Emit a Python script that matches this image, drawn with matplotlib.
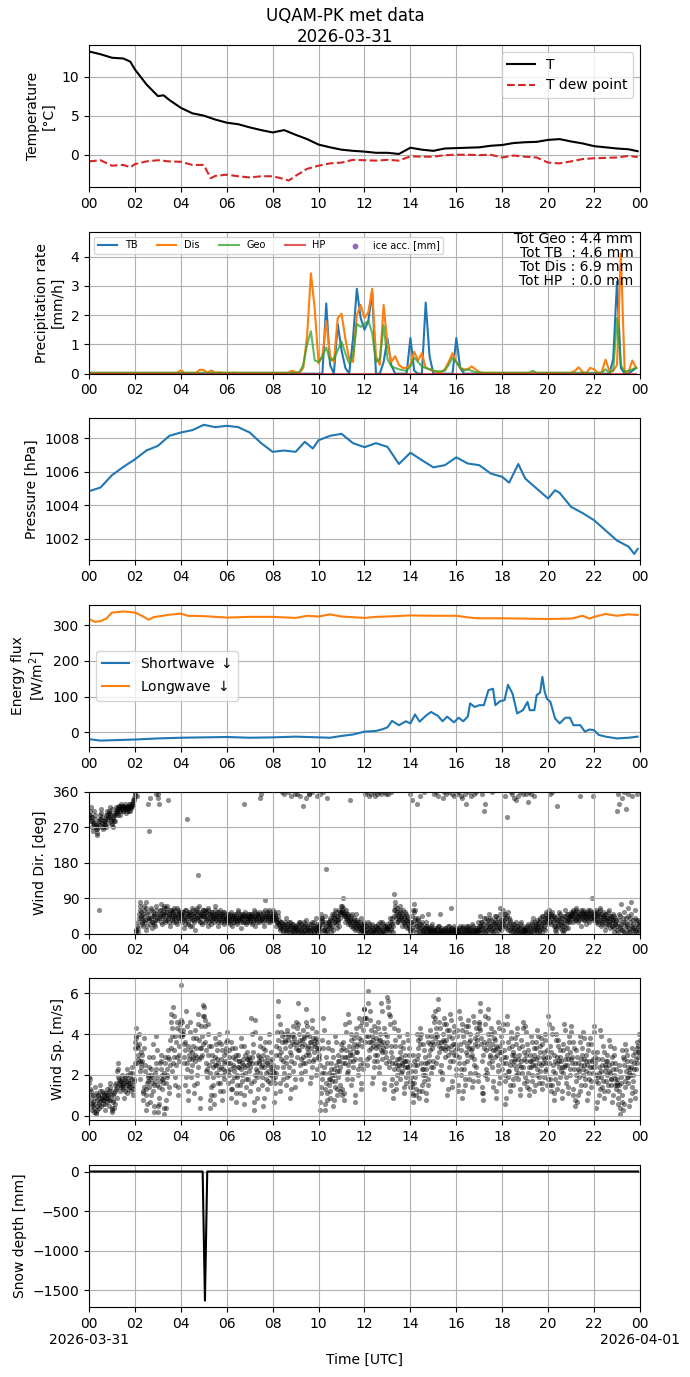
import numpy as np
import pandas as pd
import matplotlib
matplotlib.use("Agg")
import matplotlib.pyplot as plt
import matplotlib.dates as mdates
from matplotlib.ticker import FuncFormatter

DAY = pd.Timestamp("2026-03-31")
DAY_END = pd.Timestamp("2026-04-01")

# ---------------- Temperature ----------------
t_hours = [0, 0.5, 1, 1.5, 1.8, 2, 2.5, 3, 3.25, 3.5, 4, 4.5, 5, 5.5, 6, 6.5, 7, 7.5, 8, 8.5,
           9, 9.5, 10, 10.5, 11, 11.5, 12, 12.5, 13, 13.5, 14, 14.5, 15, 15.5, 16, 16.5, 17,
           17.5, 18, 18.5, 19, 19.5, 20, 20.5, 21, 21.5, 22, 22.5, 23, 23.5, 23.9]
temp = [13.2, 12.85, 12.4, 12.3, 11.9, 10.9, 9.0, 7.5, 7.6, 7.0, 6.0, 5.3, 5.0, 4.5, 4.1, 3.9,
        3.5, 3.15, 2.85, 3.15, 2.55, 2.0, 1.3, 0.95, 0.65, 0.5, 0.4, 0.25, 0.25, 0.1, 0.9, 0.65,
        0.5, 0.8, 0.85, 0.9, 0.95, 1.15, 1.25, 1.5, 1.6, 1.65, 1.9, 2.0, 1.7, 1.45, 1.1, 0.95,
        0.8, 0.7, 0.45]
td_hours = [0, 0.5, 1, 1.5, 1.8, 2, 2.5, 3, 3.5, 4, 4.5, 5, 5.3, 5.5, 6, 6.5, 7, 7.5, 8, 8.5,
            8.7, 9, 9.5, 10, 10.5, 11, 11.5, 12, 12.5, 13, 13.5, 14, 14.5, 15, 15.5, 16, 16.5,
            17, 17.5, 18, 18.5, 19, 19.5, 20, 20.5, 21, 21.5, 22, 22.5, 23, 23.5, 23.9]
tdew = [-0.85, -0.7, -1.4, -1.3, -1.6, -1.2, -0.85, -0.7, -0.85, -0.9, -1.3, -1.3, -3.0, -2.7,
        -2.55, -2.75, -2.9, -2.75, -2.75, -3.1, -3.3, -2.7, -1.8, -1.4, -1.1, -1.0, -0.65, -0.7,
        -0.75, -0.65, -0.75, -0.2, -0.25, -0.25, -0.05, 0.0, 0.0, -0.05, 0.0, -0.35, -0.1,
        -0.25, -0.35, -1.0, -1.1, -0.85, -0.55, -0.45, -0.4, -0.35, -0.15, -0.3]

# ---------------- Precipitation (10-min steps, 6 values per hour) ----------------
precip_tb = [
    0, 0, 0, 0, 0, 0,   0, 0, 0, 0, 0, 0,   0, 0, 0, 0, 0, 0,   0, 0, 0, 0, 0, 0,
    0, 0, 0, 0, 0, 0,   0, 0, 0, 0, 0, 0,   0, 0, 0, 0, 0, 0,   0, 0, 0, 0, 0, 0,
    0, 0, 0, 0, 0, 0,   0, 0, 0, 0, 0, 0,
    0, 0, 2.4, 0.3, 0, 1.7,
    0.8, 0.2, 0, 1.2, 2.9, 1.9,
    1.5, 1.8, 2.8, 0, 0, 0.4,
    1.2, 0.3, 0, 0, 0, 0,
    1.22, 0.1, 0, 0, 2.43, 0.6,
    0, 0, 0, 0, 0, 0,
    1.22, 0.2, 0, 0, 0, 0,
    0, 0, 0, 0, 0, 0,   0, 0, 0, 0, 0, 0,   0, 0, 0, 0, 0, 0,   0, 0, 0, 0, 0, 0,
    0, 0, 0, 0, 0, 0,
    0, 0, 0, 0, 0, 0.5,
    3.15, 0.2, 0, 0, 0.1, 0.2,
]
precip_dis = [
    0.03, 0.03, 0.03, 0.03, 0.03, 0.03,   0.03, 0.03, 0.03, 0.03, 0.03, 0.03,
    0.03, 0.03, 0.03, 0.03, 0.03, 0.03,   0.03, 0.03, 0.03, 0.03, 0.03, 0.03,
    0.11, 0.03, 0.03, 0.03, 0.03, 0.14,
    0.12, 0.03, 0.11, 0.03, 0.05, 0.03,
    0.03, 0.03, 0.04, 0.03, 0.03, 0.03,
    0.03, 0.03, 0.03, 0.03, 0.03, 0.03,
    0.03, 0.03, 0.03, 0.03, 0.03, 0.1,
    0.05, 0.03, 0.2, 1.3, 3.43, 2.2,
    0.35, 0.6, 1.8, 0.6, 0.4, 1.9,
    2.05, 1.2, 0.5, 0.4, 2.0, 2.35,
    1.9, 2.1, 2.9, 0.6, 0.3, 2.35,
    1.0, 0.4, 0.6, 0.3, 0.2, 0.2,
    0.3, 0.75, 0.45, 0.7, 0.2, 0.15,
    0.1, 0.05, 0.05, 0.15, 0.4, 0.7,
    0.4, 0.2, 0.15, 0.15, 0.25, 0.15,
    0.05, 0.03, 0.03, 0.03, 0.03, 0.03,
    0.03, 0.03, 0.03, 0.03, 0.03, 0.03,   0.03, 0.03, 0.03, 0.03, 0.03, 0.03,
    0.03, 0.03, 0.03, 0.03, 0.03, 0.03,
    0.03, 0.1, 0.22, 0.05, 0.03, 0.2,
    0.15, 0.03, 0.05, 0.48, 0.1, 0.1,
    0.3, 4.1, 0.1, 0.05, 0.45, 0.2,
]
precip_geo = [
    0.03, 0.03, 0.03, 0.03, 0.03, 0.03,   0.03, 0.03, 0.03, 0.03, 0.03, 0.03,
    0.03, 0.03, 0.03, 0.03, 0.03, 0.03,   0.03, 0.03, 0.03, 0.03, 0.03, 0.03,
    0.03, 0.03, 0.03, 0.03, 0.03, 0.03,   0.03, 0.03, 0.03, 0.03, 0.03, 0.03,
    0.03, 0.03, 0.03, 0.03, 0.03, 0.03,   0.03, 0.03, 0.03, 0.03, 0.03, 0.03,
    0.03, 0.03, 0.03, 0.03, 0.03, 0.03,
    0.03, 0.05, 0.3, 1.0, 1.45, 0.45,
    0.4, 0.6, 0.9, 0.45, 0.5, 0.8,
    1.1, 0.7, 0.35, 0.6, 1.7, 1.6,
    1.7, 1.8, 1.4, 0.4, 0.5, 1.65,
    0.5, 0.25, 0.2, 0.15, 0.12, 0.1,
    0.25, 0.55, 0.4, 0.25, 0.2, 0.15,
    0.1, 0.08, 0.08, 0.1, 0.3, 0.55,
    0.4, 0.2, 0.1, 0.15, 0.1, 0.05,
    0.05, 0.03, 0.03, 0.03, 0.03, 0.03,
    0.03, 0.03, 0.03, 0.03, 0.03, 0.03,
    0.03, 0.03, 0.1, 0.03, 0.03, 0.03,
    0.03, 0.03, 0.03, 0.03, 0.03, 0.03,   0.03, 0.03, 0.03, 0.03, 0.03, 0.03,
    0.03, 0.03, 0.03, 0.15, 0.03, 0.1,
    1.9, 0.3, 0.05, 0.1, 0.15, 0.2,
]
precip_hp = [
    0, 0, 0, 0, 0, 0, 0, 0, 0, 0, 0, 0,   0, 0, 0, 0, 0, 0, 0, 0, 0, 0, 0, 0,
    0, 0, 0, 0, 0, 0, 0, 0, 0, 0, 0, 0,   0, 0, 0, 0, 0, 0, 0, 0, 0, 0, 0, 0,
    0, 0, 0, 0, 0, 0, 0, 0, 0, 0, 0, 0,   0, 0, 0, 0, 0, 0, 0, 0, 0, 0, 0, 0,
    0, 0, 0, 0, 0, 0, 0, 0, 0, 0, 0, 0,   0, 0, 0, 0, 0, 0, 0, 0, 0, 0, 0, 0,
    0, 0, 0, 0, 0, 0, 0, 0, 0, 0, 0, 0,   0, 0, 0, 0, 0, 0, 0, 0, 0, 0, 0, 0,
    0, 0, 0, 0, 0, 0, 0, 0, 0, 0, 0, 0,   0, 0, 0, 0, 0, 0, 0, 0, 0, 0, 0, 0,
]
tot_labels = ["Tot Geo : 4.4 mm", "Tot TB  : 4.6 mm", "Tot Dis : 6.9 mm", "Tot HP  : 0.0 mm"]

# ---------------- Pressure ----------------
p_hours = [0, 0.5, 1, 1.5, 2, 2.5, 3, 3.5, 4, 4.5, 5, 5.5, 6, 6.5, 7, 7.5, 8, 8.5, 9, 9.4,
           9.75, 10, 10.5, 11, 11.5, 12, 12.5, 13, 13.5, 14, 14.5, 15, 15.5, 16, 16.5, 17,
           17.5, 18, 18.3, 18.7, 19, 19.5, 20, 20.3, 20.5, 21, 21.5, 22, 22.5, 23, 23.5,
           23.75, 23.9]
pressure = [1004.84, 1005.06, 1005.8, 1006.3, 1006.75, 1007.28, 1007.56, 1008.16, 1008.36,
            1008.5, 1008.82, 1008.68, 1008.76, 1008.68, 1008.36, 1007.72, 1007.2, 1007.28,
            1007.2, 1007.8, 1007.4, 1007.9, 1008.16, 1008.28, 1007.72, 1007.48, 1007.72,
            1007.5, 1006.47, 1007.15, 1006.7, 1006.27, 1006.4, 1006.87, 1006.5, 1006.4,
            1005.9, 1005.7, 1005.35, 1006.47, 1005.6, 1005.0, 1004.4, 1004.9, 1004.74,
            1003.9, 1003.53, 1003.1, 1002.49, 1001.88, 1001.52, 1001.08, 1001.38]

# ---------------- Radiation ----------------
lw_hours = [0, 0.25, 0.5, 0.75, 1.0, 1.5, 2.0, 2.3, 2.6, 2.8, 3.0, 3.5, 4.0, 4.3, 5, 6, 7, 8,
            9, 9.5, 10, 10.5, 11, 12, 12.5, 13, 14, 15, 16, 16.7, 17, 18, 19, 20, 21, 21.5,
            21.8, 22, 22.5, 23, 23.5, 23.9]
longwave = [317, 309, 311, 318, 335, 338, 335, 326, 315, 322, 324, 329, 332, 326, 325, 321,
            323, 323, 320, 326, 324, 330, 324, 320, 323, 324, 327, 326, 326, 320, 319, 319,
            318, 317, 318, 326, 318, 323, 331, 326, 330, 328]
sw_hours = [0, 0.5, 1, 2, 3, 4, 5, 6, 7, 8, 9, 10, 10.5, 11, 11.5, 12, 12.5, 12.8, 13, 13.2,
            13.5, 13.8, 14.0, 14.2, 14.4, 14.7, 14.9, 15.2, 15.4, 15.6, 15.9, 16.1, 16.3,
            16.5, 16.6, 16.8, 17.0, 17.2, 17.4, 17.6, 17.7, 17.9, 18.1, 18.25, 18.45, 18.65,
            18.9, 19.1, 19.2, 19.4, 19.5, 19.65, 19.75, 19.85, 19.95, 20.1, 20.3, 20.5,
            20.75, 20.95, 21.1, 21.4, 21.6, 21.8, 22.0, 22.2, 22.5, 23, 23.5, 23.9]
shortwave = [-19, -23, -22, -20, -17, -15, -14, -13, -15, -14, -12, -14, -15, -10, -6, 2, 4,
             9, 14, 32, 20, 31, 25, 50, 30, 48, 57, 46, 31, 44, 28, 41, 31, 44, 81, 71, 76,
             76, 118, 122, 76, 87, 90, 133, 108, 53, 62, 85, 62, 62, 104, 111, 155, 113, 94,
             85, 39, 25, 41, 41, 20, 20, 2, 8, 6, -7, -12, -17, -15, -12]

# ---------------- Wind: two interleaved sample sets, 30 per hour each ----------------
wind_dir = [
    [290, 300, 285, 320, 295, 280, 275, 310, 300, 265, 250, 255, 270, 60, 290, 300, 315, 280, 265, 270, 285, 275, 300, 310, 290, 280, 295, 320, 305, 285],
    [275, 270, 290, 300, 285, 310, 315, 305, 320, 310, 300, 325, 330, 315, 320, 310, 325, 318, 305, 312, 322, 315, 330, 320, 310, 318, 325, 335, 330, 340],
    [355, 5, 10, 350, 15, 40, 60, 80, 45, 30, 20, 50, 70, 35, 80, 10, 55, 330, 260, 40, 25, 65, 15, 45, 30, 50, 20, 60, 355, 35],
    [345, 330, 40, 60, 75, 25, 50, 45, 70, 30, 55, 65, 35, 340, 50, 45, 20, 60, 40, 55, 30, 65, 50, 45, 35, 25, 60, 40, 55, 50],
    [45, 50, 30, 55, 15, 40, 60, 35, 290, 50, 25, 45, 55, 40, 20, 65, 50, 35, 45, 10, 60, 40, 150, 55, 70, 30, 45, 50, 25, 60],
    [45, 60, 30, 55, 40, 20, 65, 50, 35, 45, 25, 55, 40, 30, 50, 70, 40, 55, 20, 45, 35, 60, 50, 30, 45, 40, 25, 55, 35, 50],
    [40, 30, 50, 35, 25, 45, 55, 20, 40, 30, 45, 35, 50, 25, 40, 60, 35, 45, 15, 40, 50, 30, 45, 330, 55, 25, 40, 30, 50, 45],
    [40, 30, 50, 25, 45, 35, 60, 20, 40, 50, 30, 45, 55, 35, 345, 355, 40, 30, 50, 20, 85, 45, 35, 55, 40, 60, 30, 45, 50, 35],
    [50, 60, 35, 45, 20, 40, 30, 55, 25, 15, 10, 30, 360, 20, 5, 355, 25, 10, 40, 15, 360, 5, 20, 30, 350, 10, 0, 25, 15, 355],
    [10, 20, 355, 5, 30, 15, 350, 25, 5, 325, 0, 20, 10, 345, 35, 5, 15, 355, 25, 10, 0, 30, 360, 15, 5, 20, 40, 10, 350, 15],
    [10, 20, 355, 50, 40, 30, 360, 10, 5, 45, 165, 345, 30, 25, 15, 35, 5, 50, 20, 10, 40, 60, 30, 25, 15, 45, 35, 20, 55, 70],
    [55, 70, 90, 50, 45, 30, 60, 40, 25, 50, 35, 340, 20, 45, 30, 15, 40, 25, 10, 50, 35, 20, 30, 15, 5, 25, 40, 10, 20, 30],
    [10, 355, 20, 360, 5, 30, 350, 15, 0, 355, 25, 10, 360, 5, 350, 20, 355, 0, 15, 360, 30, 5, 355, 10, 25, 360, 0, 20, 355, 15],
    [15, 355, 20, 40, 10, 360, 30, 5, 60, 100, 80, 50, 30, 65, 45, 35, 70, 55, 40, 20, 60, 45, 30, 25, 50, 35, 15, 40, 20, 10],
    [355, 30, 340, 60, 10, 75, 40, 5, 330, 20, 35, 15, 350, 0, 25, 45, 10, 5, 360, 15, 30, 0, 20, 50, 10, 5, 15, 0, 25, 10],
    [5, 355, 10, 0, 360, 15, 350, 5, 20, 50, 10, 0, 345, 5, 360, 15, 10, 355, 0, 5, 20, 360, 10, 65, 355, 15, 5, 350, 10, 0],
    [5, 355, 10, 360, 0, 20, 350, 5, 345, 15, 0, 355, 10, 330, 20, 5, 360, 15, 0, 350, 10, 25, 5, 355, 0, 15, 360, 10, 5, 20],
    [10, 45, 20, 355, 30, 5, 310, 330, 15, 40, 0, 25, 10, 50, 20, 35, 5, 360, 15, 25, 45, 10, 30, 0, 20, 40, 15, 65, 10, 25],
    [30, 60, 50, 350, 20, 40, 295, 10, 55, 25, 35, 360, 5, 355, 15, 345, 25, 0, 340, 10, 350, 20, 5, 360, 15, 30, 0, 355, 10, 5],
    [10, 355, 20, 0, 335, 360, 15, 5, 355, 25, 40, 10, 350, 30, 20, 15, 5, 25, 0, 10, 35, 20, 5, 45, 15, 30, 10, 55, 25, 40],
    [40, 60, 355, 30, 50, 360, 45, 20, 35, 10, 5, 325, 35, 25, 55, 40, 15, 30, 20, 5, 45, 10, 60, 25, 35, 50, 15, 40, 30, 45],
    [45, 50, 30, 60, 40, 55, 35, 65, 45, 30, 50, 40, 350, 20, 55, 45, 60, 35, 50, 40, 25, 55, 45, 30, 50, 60, 40, 90, 350, 55],
    [40, 55, 30, 60, 45, 25, 50, 35, 65, 20, 40, 30, 55, 45, 10, 35, 50, 25, 40, 60, 30, 15, 45, 35, 20, 50, 5, 30, 40, 25],
    [310, 355, 330, 50, 20, 75, 345, 10, 40, 360, 0, 30, 315, 20, 355, 65, 5, 40, 80, 15, 350, 25, 0, 60, 10, 35, 355, 20, 5, 30],
]
wind_dir_b = [
    [300, 310, 295, 285, 270, 260, 280, 290, 275, 270, 265, 280, 285, 275, 290, 305, 295, 270, 280, 275, 290, 285, 270, 300, 295, 305, 310, 300, 290, 315],
    [280, 295, 285, 305, 300, 320, 310, 300, 315, 325, 310, 320, 318, 325, 310, 322, 315, 328, 320, 315, 325, 320, 312, 330, 325, 320, 330, 340, 345, 350],
    [360, 10, 20, 5, 30, 50, 70, 40, 55, 25, 35, 60, 45, 30, 65, 20, 40, 50, 35, 345, 60, 40, 30, 55, 25, 45, 35, 70, 50, 40],
    [355, 50, 45, 30, 60, 40, 55, 65, 50, 35, 45, 70, 55, 40, 30, 60, 45, 50, 35, 55, 40, 60, 45, 30, 50, 65, 40, 55, 45, 35],
    [50, 40, 55, 35, 45, 25, 60, 45, 50, 30, 55, 40, 20, 50, 35, 60, 45, 30, 55, 40, 50, 65, 35, 45, 55, 40, 30, 50, 60, 45],
    [50, 40, 55, 35, 45, 60, 30, 50, 40, 55, 35, 45, 50, 40, 60, 35, 45, 50, 30, 55, 40, 45, 35, 50, 40, 55, 30, 45, 40, 35],
    [35, 45, 40, 30, 50, 35, 45, 40, 30, 50, 40, 35, 45, 30, 55, 40, 35, 50, 30, 45, 40, 35, 50, 45, 30, 40, 45, 35, 40, 50],
    [35, 45, 40, 50, 30, 45, 55, 40, 35, 50, 45, 30, 40, 50, 35, 45, 40, 55, 35, 45, 60, 40, 50, 30, 45, 55, 40, 35, 45, 40],
    [45, 55, 40, 50, 35, 30, 45, 25, 35, 20, 30, 15, 25, 10, 20, 30, 15, 5, 25, 20, 10, 30, 15, 5, 20, 25, 10, 15, 5, 20],
    [15, 5, 25, 10, 20, 30, 10, 5, 15, 20, 30, 10, 25, 5, 15, 20, 10, 355, 5, 15, 25, 10, 20, 5, 30, 15, 10, 25, 5, 20],
    [15, 5, 25, 40, 35, 25, 10, 15, 30, 20, 10, 5, 20, 30, 40, 25, 15, 35, 45, 30, 50, 40, 55, 35, 45, 30, 60, 50, 40, 55],
    [60, 50, 65, 45, 55, 40, 50, 35, 45, 30, 40, 25, 35, 50, 20, 30, 35, 20, 15, 30, 25, 10, 20, 30, 15, 10, 20, 5, 15, 25],
    [5, 20, 10, 0, 15, 25, 5, 10, 20, 5, 15, 0, 10, 20, 5, 10, 15, 25, 5, 10, 20, 15, 0, 30, 10, 5, 20, 15, 10, 25],
    [10, 20, 5, 30, 15, 25, 40, 20, 45, 70, 60, 40, 55, 30, 50, 40, 60, 45, 35, 50, 30, 40, 55, 20, 35, 45, 25, 30, 15, 5],
    [30, 15, 45, 25, 55, 35, 60, 20, 30, 40, 10, 25, 5, 15, 20, 30, 10, 0, 15, 5, 20, 10, 5, 15, 0, 10, 20, 5, 15, 0],
    [10, 5, 15, 0, 5, 10, 20, 0, 5, 15, 10, 5, 0, 10, 5, 15, 0, 5, 10, 20, 5, 0, 15, 10, 5, 0, 10, 20, 5, 15],
    [10, 0, 5, 15, 10, 5, 0, 15, 20, 5, 10, 0, 15, 5, 10, 20, 5, 0, 10, 15, 5, 20, 10, 0, 5, 10, 15, 5, 30, 10],
    [20, 5, 30, 15, 10, 25, 40, 5, 20, 30, 10, 35, 15, 20, 40, 10, 25, 30, 5, 15, 35, 20, 45, 25, 10, 30, 50, 15, 35, 20],
    [40, 25, 35, 50, 15, 30, 45, 20, 40, 10, 30, 15, 20, 5, 25, 10, 15, 30, 5, 20, 10, 0, 15, 25, 5, 10, 20, 5, 15, 10],
    [5, 15, 10, 25, 5, 20, 10, 0, 15, 30, 20, 5, 15, 25, 10, 35, 20, 10, 30, 40, 15, 25, 45, 30, 20, 40, 35, 50, 30, 45],
    [50, 35, 45, 25, 40, 55, 30, 45, 20, 40, 15, 30, 45, 20, 35, 50, 25, 40, 10, 30, 20, 35, 45, 15, 40, 30, 50, 35, 45, 55],
    [50, 40, 55, 45, 35, 50, 60, 40, 45, 55, 35, 50, 45, 60, 40, 50, 35, 55, 45, 50, 40, 60, 35, 45, 55, 40, 50, 45, 35, 50],
    [45, 35, 50, 40, 55, 30, 45, 60, 35, 50, 25, 45, 40, 30, 50, 20, 40, 35, 55, 25, 45, 30, 40, 20, 35, 45, 15, 25, 35, 10],
    [20, 5, 35, 15, 45, 25, 10, 30, 55, 5, 20, 40, 10, 25, 45, 15, 30, 5, 50, 20, 10, 35, 15, 40, 5, 25, 15, 35, 10, 25],
]
wind_speed = [
    [1.9, 1.8, 1.2, 0.8, 0.5, 1.0, 0.2, 0.6, 1.4, 0.1, 0.3, 0.8, 1.0, 0.4, 0.9, 1.5, 0.5, 1.2, 0.6, 0.8, 1.1, 0.3, 0.9, 1.3, 0.7, 1.0, 0.5, 1.6, 0.8, 1.2],
    [0.2, 1.0, 0.7, 0.4, 1.5, 1.3, 0.9, 2.2, 2.6, 1.8, 1.5, 1.2, 1.7, 2.0, 1.6, 1.4, 0.9, 1.8, 1.5, 2.3, 1.1, 1.7, 1.4, 1.9, 1.6, 1.2, 2.1, 1.0, 1.5, 1.8],
    [3.3, 4.3, 3.8, 2.6, 3.0, 4.0, 2.2, 1.8, 3.1, 2.7, 0.8, 1.2, 3.8, 2.5, 1.0, 0.3, 1.6, 2.0, 2.9, 1.4, 0.7, 2.3, 1.9, 3.5, 1.2, 0.2, 1.7, 2.6, 3.9, 1.5],
    [0.2, 0.6, 1.4, 2.6, 3.0, 2.0, 1.3, 1.8, 0.1, 2.9, 0.4, 1.6, 2.3, 3.2, 1.1, 2.8, 3.7, 5.0, 4.3, 2.2, 5.3, 2.9, 1.5, 3.9, 2.5, 4.6, 1.0, 3.4, 2.7, 4.2],
    [6.4, 3.9, 4.6, 4.0, 2.6, 3.6, 1.5, 5.1, 2.3, 0.8, 3.4, 2.8, 4.6, 1.9, 3.1, 2.5, 3.8, 1.1, 2.7, 4.2, 3.3, 1.6, 5.0, 2.4, 3.7, 0.4, 2.9, 4.4, 3.0, 5.4],
    [5.3, 4.7, 3.6, 2.2, 1.9, 4.5, 3.0, 2.5, 0.4, 1.0, 3.4, 2.7, 1.5, 0.6, 2.9, 3.8, 2.1, 3.2, 1.6, 2.6, 4.0, 1.2, 2.4, 3.5, 0.8, 2.0, 3.0, 1.8, 2.7, 3.6],
    [4.1, 2.2, 1.6, 3.2, 2.6, 0.9, 3.6, 1.3, 2.9, 1.9, 2.4, 3.3, 0.7, 1.5, 2.0, 3.0, 2.7, 1.1, 3.8, 2.3, 1.7, 2.8, 0.6, 3.4, 2.1, 1.4, 2.5, 3.1, 1.8, 2.6],
    [2.7, 1.2, 4.8, 2.6, 3.5, 0.3, 1.7, 4.7, 2.3, 1.9, 0.9, 3.0, 2.6, 3.8, 2.1, 2.8, 1.5, 3.3, 0.5, 2.4, 3.6, 1.8, 2.9, 1.3, 2.2, 4.0, 1.6, 2.7, 3.1, 2.0],
    [2.5, 1.8, 0.7, 1.6, 3.4, 2.1, 4.1, 5.6, 3.0, 1.2, 4.5, 2.8, 3.9, 2.4, 1.8, 4.0, 3.3, 2.6, 1.5, 4.2, 3.7, 2.0, 3.1, 0.9, 2.7, 3.6, 4.4, 2.2, 3.8, 1.4],
    [3.6, 4.6, 2.9, 5.5, 3.2, 4.0, 2.5, 1.8, 3.7, 2.6, 4.2, 3.5, 2.2, 5.2, 3.0, 4.4, 3.1, 2.7, 3.9, 1.6, 3.3, 4.7, 2.4, 3.8, 2.8, 3.4, 4.1, 2.0, 3.6, 2.9],
    [3.3, 2.8, 0.3, 1.1, 1.8, 3.7, 4.8, 2.4, 0.3, 1.3, 2.9, 0.8, 3.6, 2.1, 1.5, 0.9, 2.6, 1.7, 3.2, 0.5, 2.0, 1.4, 3.9, 2.5, 1.0, 3.0, 1.9, 2.7, 1.2, 3.5],
    [1.0, 2.9, 3.6, 0.8, 2.6, 4.5, 3.2, 1.8, 2.2, 5.0, 3.4, 2.7, 4.0, 1.5, 3.0, 2.4, 3.8, 0.7, 2.8, 4.3, 3.1, 2.0, 3.5, 4.8, 2.5, 1.3, 3.7, 4.6, 2.3, 5.2],
    [5.2, 3.6, 4.8, 2.5, 6.1, 3.9, 2.9, 5.1, 3.3, 4.2, 1.6, 3.7, 2.4, 4.4, 3.0, 3.8, 2.7, 4.6, 3.4, 2.1, 4.0, 3.2, 5.5, 2.8, 3.6, 1.3, 4.3, 3.1, 2.6, 3.9],
    [5.8, 5.3, 2.4, 4.9, 3.1, 1.5, 2.6, 0.9, 4.6, 2.3, 3.7, 1.3, 2.8, 2.0, 4.2, 2.5, 3.4, 1.8, 2.9, 2.2, 3.6, 1.1, 2.7, 3.0, 1.6, 2.4, 4.0, 2.1, 3.3, 1.4],
    [2.5, 1.9, 1.1, 0.7, 3.0, 1.6, 2.2, 1.3, 2.8, 4.0, 3.3, 0.9, 3.8, 4.3, 2.6, 1.2, 2.0, 3.5, 1.7, 2.9, 0.8, 2.3, 3.9, 1.5, 2.7, 3.2, 4.2, 2.1, 3.6, 2.4],
    [4.9, 3.5, 5.1, 4.3, 2.6, 3.9, 5.7, 3.1, 4.6, 2.2, 3.6, 1.8, 4.0, 3.3, 4.8, 2.9, 3.7, 4.5, 1.0, 3.0, 4.2, 2.4, 5.0, 3.4, 1.4, 3.8, 2.7, 4.4, 3.2, 2.0],
    [3.0, 4.2, 1.2, 2.6, 5.1, 3.5, 2.0, 4.5, 0.9, 3.9, 2.3, 1.5, 4.4, 3.1, 2.7, 4.7, 3.6, 1.8, 4.0, 2.9, 3.3, 1.4, 4.9, 2.5, 3.8, 2.1, 4.3, 3.4, 1.7, 4.6],
    [4.5, 5.5, 3.8, 1.1, 2.7, 0.8, 3.6, 4.9, 2.0, 3.2, 1.8, 5.2, 4.0, 2.6, 3.0, 4.3, 2.4, 3.5, 1.4, 4.1, 2.9, 3.7, 0.9, 3.3, 2.2, 4.6, 1.6, 3.1, 2.8, 3.9],
    [2.3, 4.5, 3.2, 1.7, 0.6, 2.9, 4.9, 1.9, 3.6, 2.2, 1.2, 4.1, 2.7, 3.4, 1.5, 3.0, 2.5, 3.8, 2.0, 4.3, 1.8, 2.8, 3.3, 1.0, 2.4, 3.7, 2.1, 4.6, 3.1, 1.6],
    [4.4, 2.7, 1.4, 3.5, 2.1, 1.0, 3.0, 2.4, 3.9, 1.7, 2.8, 3.3, 1.2, 2.5, 3.6, 2.0, 4.2, 2.9, 1.6, 3.4, 2.2, 3.8, 1.3, 2.6, 3.1, 1.9, 4.0, 2.3, 3.2, 1.5],
    [4.9, 2.6, 1.5, 3.4, 1.2, 4.3, 2.2, 0.8, 3.0, 1.8, 4.0, 2.9, 1.3, 3.7, 2.4, 3.2, 1.9, 2.7, 0.9, 3.5, 2.1, 4.5, 2.8, 1.6, 3.3, 2.5, 1.1, 3.9, 2.0, 3.1],
    [4.4, 2.9, 1.0, 3.6, 2.3, 0.5, 1.7, 3.2, 0.7, 2.6, 1.9, 3.9, 1.2, 2.5, 3.3, 2.0, 4.1, 2.8, 1.5, 3.0, 2.2, 0.8, 3.5, 1.8, 2.7, 3.8, 1.4, 2.4, 3.1, 2.1],
    [4.4, 2.6, 2.0, 0.4, 3.1, 1.6, 2.4, 1.0, 4.2, 1.9, 2.8, 1.4, 3.4, 0.9, 2.2, 2.7, 1.7, 3.0, 1.2, 2.5, 3.7, 2.1, 1.5, 2.9, 0.7, 2.3, 3.3, 1.8, 2.6, 1.3],
    [1.8, 0.6, 1.2, 2.5, 0.1, 1.9, 0.7, 3.2, 0.3, 2.8, 1.4, 3.5, 2.2, 3.0, 1.6, 2.4, 0.5, 2.0, 2.7, 1.1, 3.3, 1.7, 2.6, 0.9, 3.1, 2.3, 3.6, 2.9, 3.4, 4.0],
]
wind_speed_b = [
    [1.6, 1.3, 1.0, 0.6, 0.3, 0.7, 0.4, 0.9, 1.1, 0.2, 0.5, 1.0, 0.7, 0.6, 1.2, 0.8, 0.9, 1.0, 0.8, 1.0, 0.9, 0.6, 1.1, 1.0, 0.9, 1.2, 0.8, 1.4, 1.0, 0.3],
    [0.4, 0.8, 1.1, 0.6, 1.2, 1.6, 1.4, 1.9, 2.3, 1.6, 1.7, 1.4, 1.5, 1.8, 1.3, 1.6, 1.2, 1.9, 1.7, 2.0, 1.3, 1.5, 1.6, 2.1, 1.8, 1.4, 2.4, 1.3, 1.7, 2.6],
    [3.6, 3.9, 3.4, 2.8, 3.3, 3.5, 2.7, 2.4, 2.6, 3.0, 1.1, 1.4, 3.3, 2.2, 1.3, 0.6, 1.9, 1.7, 2.4, 1.8, 1.0, 2.0, 1.6, 2.9, 1.5, 0.5, 2.1, 2.3, 3.2, 1.9],
    [0.5, 0.9, 1.7, 2.3, 2.7, 1.8, 1.6, 2.1, 0.4, 2.6, 0.8, 1.9, 2.0, 2.9, 1.4, 2.5, 3.3, 4.6, 3.9, 2.6, 4.9, 3.2, 1.9, 3.6, 2.9, 4.3, 1.4, 3.0, 3.9, 4.5],
    [4.7, 4.0, 4.2, 3.5, 2.9, 3.2, 1.9, 4.4, 2.6, 1.2, 3.0, 3.2, 4.1, 2.2, 2.8, 2.9, 3.4, 1.5, 3.0, 3.8, 2.9, 2.0, 4.5, 2.8, 3.3, 0.9, 3.3, 3.9, 3.5, 4.9],
    [4.9, 4.4, 3.2, 2.6, 2.3, 4.0, 3.4, 2.1, 0.8, 1.4, 3.0, 2.4, 1.9, 1.0, 2.5, 3.5, 2.5, 2.8, 2.0, 2.3, 3.6, 1.6, 2.8, 3.2, 1.2, 2.3, 2.6, 2.2, 3.1, 3.3],
    [3.7, 2.6, 2.0, 2.9, 2.3, 1.3, 3.3, 1.7, 2.5, 2.2, 2.8, 3.0, 1.1, 1.9, 2.4, 2.7, 2.4, 1.5, 3.4, 2.6, 2.0, 2.5, 1.0, 3.0, 2.4, 1.8, 2.8, 2.8, 2.2, 2.9],
    [2.4, 1.6, 4.0, 2.9, 3.1, 0.7, 2.0, 4.1, 2.6, 2.2, 1.3, 2.7, 2.9, 3.4, 2.4, 2.5, 1.9, 3.0, 0.9, 2.7, 3.2, 2.1, 2.6, 1.7, 2.5, 3.6, 2.0, 2.4, 2.8, 2.3],
    [2.2, 2.1, 1.1, 1.9, 3.0, 2.4, 3.7, 4.9, 3.3, 1.6, 4.1, 3.1, 3.6, 2.7, 2.1, 3.7, 3.6, 2.9, 1.9, 3.9, 4.0, 2.4, 3.4, 1.3, 3.0, 3.9, 4.0, 2.6, 3.5, 1.8],
    [3.3, 4.3, 3.2, 4.5, 3.5, 3.7, 2.8, 2.1, 3.4, 2.9, 3.9, 3.8, 2.6, 4.6, 3.3, 4.0, 3.4, 3.0, 3.6, 1.9, 3.6, 4.3, 2.7, 3.5, 3.1, 3.7, 3.8, 2.3, 3.3, 3.2],
    [3.0, 2.5, 0.7, 1.4, 2.1, 3.3, 4.2, 2.1, 0.6, 1.6, 2.6, 1.1, 3.3, 1.8, 1.8, 1.2, 2.3, 2.0, 2.9, 0.8, 2.3, 1.7, 3.6, 2.2, 1.3, 2.7, 2.2, 2.4, 1.5, 3.2],
    [1.3, 2.6, 3.3, 1.1, 2.9, 4.1, 2.9, 2.1, 2.5, 4.6, 3.1, 3.0, 3.7, 1.8, 3.3, 2.7, 3.5, 1.0, 3.1, 4.0, 3.4, 2.3, 3.8, 4.4, 2.8, 1.6, 3.4, 4.2, 2.6, 4.8],
    [4.8, 3.9, 4.5, 2.8, 5.5, 3.6, 3.2, 4.7, 3.6, 3.9, 1.9, 3.4, 2.7, 4.1, 3.3, 3.5, 3.0, 4.3, 3.7, 2.4, 3.7, 3.5, 5.1, 3.1, 3.3, 1.6, 4.0, 3.4, 2.9, 3.6],
    [5.6, 5.0, 2.7, 4.5, 3.4, 1.8, 2.9, 1.2, 4.3, 2.6, 3.4, 1.6, 2.5, 2.3, 3.9, 2.8, 3.1, 2.1, 2.6, 2.5, 3.3, 1.4, 2.4, 2.7, 1.9, 2.7, 3.7, 2.4, 3.0, 1.7],
    [2.2, 1.6, 1.4, 1.0, 2.7, 1.9, 2.5, 1.0, 2.5, 3.7, 3.0, 1.2, 3.5, 4.0, 2.3, 1.5, 2.3, 3.2, 2.0, 2.6, 1.1, 2.6, 3.6, 1.8, 3.0, 3.5, 3.9, 2.4, 3.3, 2.7],
    [4.6, 3.8, 4.8, 4.0, 2.9, 3.6, 5.2, 3.4, 4.3, 2.5, 3.3, 2.1, 3.7, 3.6, 4.5, 3.2, 3.4, 4.2, 1.3, 3.3, 3.9, 2.7, 4.7, 3.1, 1.7, 3.5, 3.0, 4.1, 3.5, 2.3],
    [3.3, 3.9, 1.5, 2.9, 4.8, 3.2, 2.3, 4.2, 1.2, 3.6, 2.6, 1.8, 4.1, 3.4, 3.0, 4.4, 3.3, 2.1, 3.7, 3.2, 3.0, 1.7, 4.6, 2.8, 3.5, 2.4, 4.0, 3.7, 2.0, 4.3],
    [4.2, 5.1, 3.5, 1.4, 3.0, 1.1, 3.3, 4.5, 2.3, 3.5, 2.1, 4.8, 3.7, 2.9, 3.3, 4.0, 2.7, 3.2, 1.7, 3.8, 3.2, 3.4, 1.2, 3.0, 2.5, 4.3, 1.9, 3.4, 3.1, 3.6],
    [2.6, 4.2, 2.9, 2.0, 0.9, 2.6, 4.5, 2.2, 3.3, 2.5, 1.5, 3.8, 3.0, 3.1, 1.8, 2.7, 2.8, 3.5, 2.3, 4.0, 2.1, 2.5, 3.0, 1.3, 2.7, 3.4, 2.4, 4.3, 2.8, 1.9],
    [4.1, 3.0, 1.7, 3.2, 2.4, 1.3, 2.7, 2.7, 3.6, 2.0, 2.5, 3.0, 1.5, 2.8, 3.3, 2.3, 3.9, 2.6, 1.9, 3.1, 2.5, 3.5, 1.6, 2.9, 2.8, 2.2, 3.7, 2.6, 2.9, 1.8],
    [4.5, 2.9, 1.8, 3.1, 1.5, 4.0, 2.5, 1.1, 2.7, 2.1, 3.7, 2.6, 1.6, 3.4, 2.7, 2.9, 2.2, 2.4, 1.2, 3.2, 2.4, 4.2, 2.5, 1.9, 3.0, 2.8, 1.4, 3.6, 2.3, 2.8],
    [4.1, 2.6, 1.3, 3.3, 2.6, 0.8, 2.0, 2.9, 1.0, 2.3, 2.2, 3.6, 1.5, 2.8, 3.0, 2.3, 3.8, 2.5, 1.8, 2.7, 2.5, 1.1, 3.2, 2.1, 2.4, 3.5, 1.7, 2.7, 2.8, 2.4],
    [4.1, 2.9, 1.7, 0.7, 2.8, 1.9, 2.1, 1.3, 3.9, 2.2, 2.5, 1.7, 3.1, 1.2, 2.5, 2.4, 2.0, 2.7, 1.5, 2.2, 3.4, 1.8, 1.8, 2.6, 1.0, 2.0, 3.0, 1.5, 2.3, 1.6],
    [1.5, 0.9, 1.5, 2.2, 0.4, 1.6, 1.0, 2.9, 0.6, 2.5, 1.7, 3.2, 1.9, 2.7, 1.9, 2.1, 0.8, 2.3, 2.4, 1.4, 3.0, 2.0, 2.3, 1.2, 2.8, 2.6, 3.3, 3.1, 3.1, 3.7],
]

# ---------------- Snow depth ----------------
snow_hours = [0.0, 4.95, 5.05, 5.15, 23.92]
snow_depth = [0, 0, -1630, 0, 0]


def at(hours):
    return DAY + pd.to_timedelta(np.asarray(hours, dtype=float), unit="h")


def hourly_times(rows, offset=0.0):
    hrs = []
    for h, row in enumerate(rows):
        n = len(row)
        hrs.extend([h + (k + offset) / n for k in range(n)])
    return at(hrs), np.concatenate([np.asarray(r, dtype=float) for r in rows])


precip_times = at(np.arange(len(precip_tb)) / 6.0)
wd_t, wd_v = hourly_times(wind_dir)
wd_t2, wd_v2 = hourly_times(wind_dir_b, 0.5)
ws_t, ws_v = hourly_times(wind_speed)
ws_t2, ws_v2 = hourly_times(wind_speed_b, 0.5)

fig, axes = plt.subplots(7, 1, figsize=(6.9, 13.77), dpi=100)
fig.subplots_adjust(left=0.129, right=0.9275, top=0.9673, bottom=0.0508, hspace=0.3146)
fig.suptitle("UQAM-PK met data\n2026-03-31", fontsize=12, y=0.995)

ax = axes[0]
ax.plot(at(t_hours), temp, color="k", lw=1.5, label="T")
ax.plot(at(td_hours), tdew, color="tab:red", ls="--", lw=1.5, label="T dew point")
ax.set_ylabel("Temperature\n[°C]")
ax.legend(loc="upper right")

ax = axes[1]
ax.plot(precip_times, precip_tb, color="tab:blue", lw=1.5, label="TB")
ax.plot(precip_times, precip_dis, color="tab:orange", lw=1.5, label="Dis")
ax.plot(precip_times, precip_geo, color="tab:green", lw=1.5, alpha=0.75, label="Geo")
ax.plot(precip_times, precip_hp, color="tab:red", lw=1.5, alpha=0.75, label="HP")
ax.scatter([], [], s=10, color="tab:purple", label="ice acc. [mm]")
ax.set_ylim(0, 4.85)
ax.set_ylabel("Precipitation rate\n[mm/h]")
ax.legend(loc="upper left", ncol=5, fontsize=7)
ax.text(0.988, 0.995, "\n".join(tot_labels), transform=ax.transAxes, ha="right", va="top",
        fontsize=10, linespacing=1.0)

ax = axes[2]
ax.plot(at(p_hours), pressure, color="tab:blue", lw=1.5)
ax.set_ylabel("Pressure [hPa]")

ax = axes[3]
ax.plot(at(sw_hours), shortwave, color="tab:blue", lw=1.5, label="Shortwave $\\downarrow$")
ax.plot(at(lw_hours), longwave, color="tab:orange", lw=1.5, label="Longwave $\\downarrow$")
ax.set_ylabel("Energy flux\n[W/m$^2$]")
ax.legend(loc="center left")

ax = axes[4]
ax.scatter(wd_t, wd_v, s=14, color="k", alpha=0.45, linewidths=0)
ax.scatter(wd_t2, wd_v2, s=14, color="k", alpha=0.45, linewidths=0)
ax.set_ylim(0, 360)
ax.set_yticks([0, 90, 180, 270, 360])
ax.set_ylabel("Wind Dir. [deg]")

ax = axes[5]
ax.scatter(ws_t, ws_v, s=14, color="k", alpha=0.45, linewidths=0)
ax.scatter(ws_t2, ws_v2, s=14, color="k", alpha=0.45, linewidths=0)
ax.set_ylabel("Wind Sp. [m/s]")

ax = axes[6]
ax.plot(at(snow_hours), snow_depth, color="k", lw=1.5)
ax.set_ylabel("Snow depth [mm]")
ax.set_xlabel("Time [UTC]")

for ax in axes:
    ax.set_xlim(DAY, DAY_END)
    ax.xaxis.set_major_locator(mdates.HourLocator(byhour=range(0, 24, 2)))
    ax.xaxis.set_major_formatter(mdates.DateFormatter("%H"))
    ax.grid(True)


def last_fmt(x, pos):
    d = mdates.num2date(x)
    if d.hour == 0:
        return d.strftime("%H\n%Y-%m-%d")
    return d.strftime("%H")


axes[6].xaxis.set_major_formatter(FuncFormatter(last_fmt))

fig.savefig("out.png", dpi=100)
